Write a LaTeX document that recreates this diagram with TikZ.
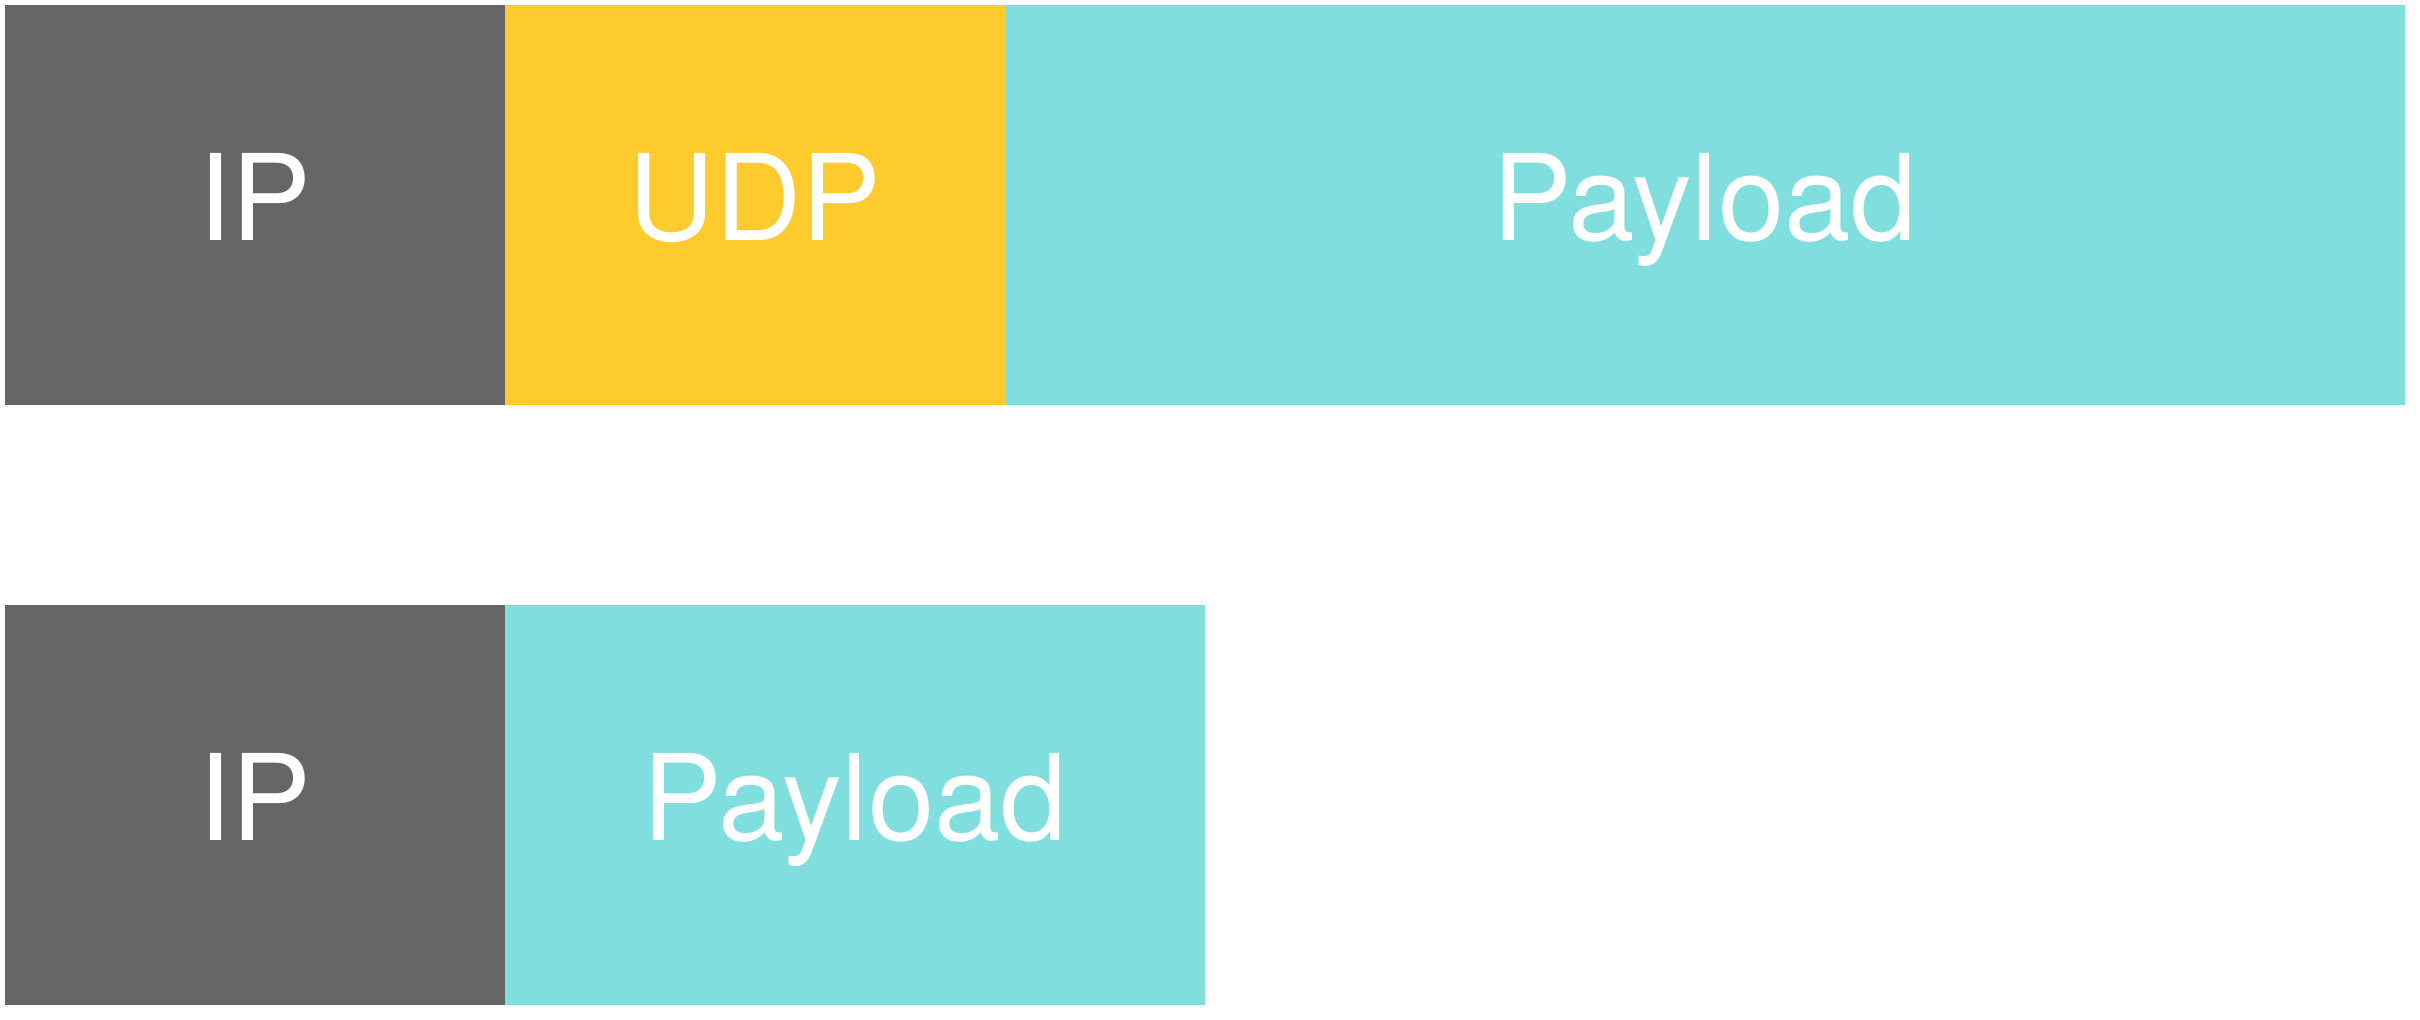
\documentclass[tikz,border=0pt]{standalone}
\usepackage{fontspec}
\setmainfont{TeX Gyre Heros}
\usetikzlibrary{positioning}
\definecolor{ipgray}{RGB}{102,102,102}
\definecolor{udpyellow}{RGB}{254,203,47}
\definecolor{paycyan}{RGB}{128,222,222}
\tikzset{
    field/.style={rectangle, inner sep=0pt, outer sep=0pt, minimum height=40mm,
        text=white, font=\fontsize{34}{41}\selectfont, text height=8.6mm, text depth=1.4mm},
    ipfield/.style={field, fill=ipgray, minimum width=50mm},
    udpfield/.style={field, fill=udpyellow, minimum width=50mm},
    payfield/.style={field, fill=paycyan}
}
\begin{document}
\begin{tikzpicture}[node distance=0mm]
        \useasboundingbox (0,0) rectangle (242mm,102mm);
        % IP + UDP + payload
        \node [ipfield, anchor=north west] (ipa) at (0.5mm,101.5mm) {IP};
        \node [udpfield, right=of ipa] (udp) {UDP};
        \node [payfield, minimum width=140mm, right=of udp] (paya) {Payload};
        % IP + payload
        \node [ipfield, below=20mm of ipa] (ipb) {IP};
        \node [payfield, minimum width=70mm, right=of ipb] (payb) {Payload};
    \end{tikzpicture}
\end{document}
